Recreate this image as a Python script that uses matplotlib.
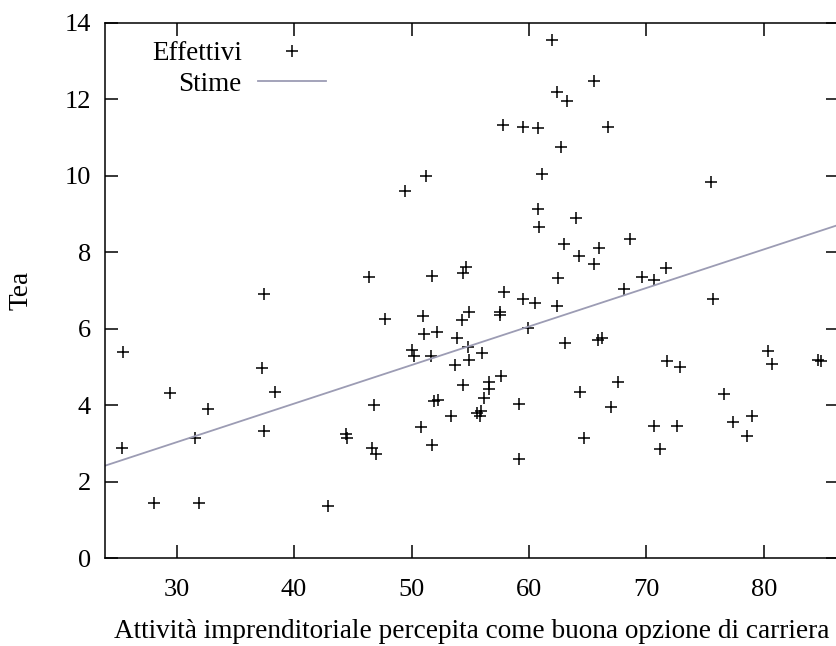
"""Tea vs percezione dell'attività imprenditoriale come opzione di carriera."""

import matplotlib

matplotlib.use("Agg")
import matplotlib.pyplot as plt

plt.rcParams["font.family"] = ["Liberation Serif", "DejaVu Serif"]

# valori osservati (Effettivi)
carriera = [
    25.47, 25.32, 28.03, 29.45, 31.53, 31.93, 32.64, 37.30, 37.41, 38.35,
    37.44, 51.24, 49.47, 46.40, 51.72, 47.74, 51.01, 51.09, 52.15, 50.07,
    50.21, 51.64, 46.77, 51.95, 52.29, 53.35, 44.38, 44.47, 50.79, 51.72,
    46.66, 46.95, 42.90, 61.93, 65.55, 62.36, 63.21, 57.81, 59.45, 60.73,
    62.76, 61.11, 60.73, 60.82, 64.01, 62.95, 64.29, 65.51, 65.95, 54.62,
    54.39, 62.50, 57.89, 59.45, 60.54, 62.36, 54.93, 54.28, 57.55, 57.55,
    59.94, 53.91, 54.85, 55.96, 54.91, 53.71, 63.07, 65.85, 66.20, 54.39,
    56.61, 56.61, 57.66, 56.19, 59.17, 64.38, 55.61, 55.90, 55.82, 64.72,
    59.17, 68.13, 75.67, 71.78, 72.83, 67.56, 67.00, 70.61, 72.60, 71.18,
    76.58, 77.37, 79.03, 78.57, 80.36, 80.70, 84.57, 84.83, 66.77, 75.53,
    68.62, 71.69, 69.64, 70.61,
]
tea = [
    5.40, 2.89, 1.45, 4.33, 3.15, 1.45, 3.90, 4.96, 3.32, 4.35,
    6.91, 10.00, 9.61, 7.35, 7.38, 6.26, 6.34, 5.87, 5.91, 5.44,
    5.29, 5.29, 4.00, 4.11, 4.14, 3.72, 3.24, 3.14, 3.43, 2.96,
    2.87, 2.72, 1.36, 13.56, 12.48, 12.20, 11.95, 11.33, 11.27, 11.24,
    10.76, 10.04, 9.13, 8.67, 8.89, 8.22, 7.89, 7.69, 8.10, 7.62,
    7.45, 7.32, 6.95, 6.79, 6.66, 6.60, 6.45, 6.22, 6.45, 6.36,
    6.01, 5.77, 5.51, 5.37, 5.18, 5.05, 5.62, 5.70, 5.77, 4.54,
    4.61, 4.41, 4.75, 4.18, 4.03, 4.35, 3.79, 3.86, 3.72, 3.13,
    2.59, 7.03, 6.78, 5.16, 4.99, 4.61, 3.96, 3.46, 3.46, 2.84,
    4.28, 3.57, 3.72, 3.18, 5.42, 5.08, 5.18, 5.16, 11.27, 9.85,
    8.35, 7.60, 7.35, 7.28,
]

# retta stimata (Stime)
intercetta = 0.004
pendenza = 0.1009

x_range = (23.9, 86.4)
y_range = (0, 14)
x_ticks = [30, 40, 50, 60, 70, 80]
y_ticks = [0, 2, 4, 6, 8, 10, 12, 14]

fig = plt.figure(figsize=(8.36, 6.46), dpi=100)
# l'area del grafico esce leggermente dal bordo destro, come nell'originale
ax = fig.add_axes([0.1256, 0.1362, 0.878, 0.8282])

ax.plot(carriera, tea, linestyle="none", marker="+", markersize=8.5,
        markeredgewidth=1.1, color="black", label="Effettivi")

xs = list(x_range)
ax.plot(xs, [intercetta + pendenza * v for v in xs], color="#9c9cb4",
        linewidth=1.3, label="Stime")

ax.set_xlim(*x_range)
ax.set_ylim(*y_range)
ax.set_xticks(x_ticks)
ax.set_yticks(y_ticks)
ax.tick_params(direction="in", length=9.4, width=1.1, labelsize=19,
               top=True, right=True)
ax.tick_params(axis="x", pad=15)
ax.tick_params(axis="y", pad=10)
for sp in ax.spines.values():
    sp.set_linewidth(1.1)

ax.set_xlabel("Attività imprenditoriale percepita come buona opzione di carriera",
              fontsize=19.6, labelpad=13)
ax.set_ylabel("Tea", fontsize=19.6, labelpad=22)

ax.legend(loc="upper left", bbox_to_anchor=(0.064, 0.966), frameon=False,
          markerfirst=False, fontsize=19.5, handlelength=2.5, handletextpad=0.6,
          labelspacing=0.2, borderpad=0, borderaxespad=0)

fig.savefig("out.png", dpi=100)
